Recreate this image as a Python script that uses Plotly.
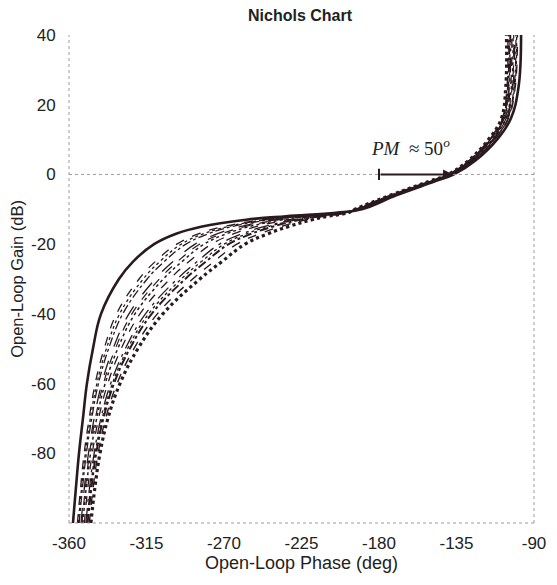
import plotly.graph_objects as go

# ---- data ----
gain_db = [-100, -90, -80, -70, -60, -50, -40, -30, -25, -20, -17, -15, -13, -12, -11,
           -10, -6, -2, 0, 4, 10, 16, 25, 40]

phase_solid = [-357.7, -356.0, -354.2, -351.9, -349.6, -346.1, -341.4, -331.0, -322.8, -310.6,
               -297.8, -283.3, -257.2, -234.0, -205.0, -190.0, -170.0, -147.5, -136.5, -124.0,
               -111.5, -103.5, -99.0, -97.5]
phase_c1 = [-355.1, -353.3, -351.2, -348.3, -344.8, -339.6, -332.4, -319.3, -309.9, -297.4,
            -284.5, -270.7, -247.6, -227.9, -203.3, -191.0, -170.9, -148.4, -137.4, -125.0,
            -112.8, -104.9, -100.9, -99.6]
phase_c1b = [-354.6, -352.7, -350.5, -347.6, -343.8, -338.3, -330.6, -316.9, -307.3, -294.8,
             -281.8, -268.1, -245.7, -226.7, -202.9, -191.2, -171.1, -148.6, -137.6, -125.2,
             -113.0, -105.2, -101.2, -100.1]
phase_c2 = [-354.1, -352.2, -349.9, -346.8, -342.9, -337.0, -328.8, -314.6, -304.7, -292.1,
            -279.1, -265.6, -243.8, -225.5, -202.6, -191.4, -171.2, -148.7, -137.7, -125.4,
            -113.3, -105.4, -101.6, -100.5]
phase_c3 = [-353.0, -351.1, -348.7, -345.4, -341.0, -334.4, -325.2, -309.9, -299.6, -286.8,
            -273.8, -260.6, -240.0, -223.0, -201.9, -191.8, -171.6, -149.1, -138.1, -125.8,
            -113.8, -106.0, -102.3, -101.3]
phase_c3b = [-352.5, -350.5, -348.1, -344.7, -340.0, -333.1, -323.5, -307.5, -297.0, -284.2,
             -271.1, -258.1, -238.1, -221.8, -201.5, -192.0, -171.8, -149.3, -138.3, -126.0,
             -114.0, -106.3, -102.7, -101.8]
phase_c4 = [-352.0, -350.0, -347.5, -343.9, -339.0, -331.7, -321.7, -305.2, -294.4, -281.6,
            -268.4, -255.5, -236.1, -220.6, -201.2, -192.2, -171.9, -149.4, -138.4, -126.2,
            -114.3, -106.5, -103.1, -102.2]
phase_c5 = [-351.1, -349.1, -346.5, -342.8, -337.5, -329.7, -318.8, -301.4, -290.3, -277.3,
            -264.2, -251.5, -233.1, -218.6, -200.6, -192.5, -172.2, -149.7, -138.7, -126.5,
            -114.7, -107.0, -103.7, -102.9]
phase_c6 = [-350.2, -348.1, -345.4, -341.5, -335.8, -327.3, -315.6, -297.2, -285.6, -272.6,
            -259.4, -246.9, -229.6, -216.4, -200.0, -192.9, -172.5, -150.0, -139.0, -126.9,
            -115.1, -107.5, -104.3, -103.6]
phase_c6b = [-349.7, -347.5, -344.8, -340.7, -334.8, -326.0, -313.8, -294.8, -283.1, -269.9,
             -256.7, -244.4, -227.7, -215.2, -199.6, -193.1, -172.7, -150.2, -139.2, -127.1,
             -115.4, -107.7, -104.7, -104.0]
phase_c7 = [-349.2, -347.0, -344.2, -340.0, -333.9, -324.7, -312.0, -292.5, -280.5, -267.3,
            -254.0, -241.9, -225.8, -214.0, -199.3, -193.3, -172.9, -150.4, -139.4, -127.3,
            -115.6, -108.0, -105.1, -104.5]
phase_c8 = [-348.2, -346.0, -343.1, -338.7, -332.1, -322.3, -308.7, -288.2, -275.8, -262.6,
            -249.2, -237.3, -222.3, -211.8, -198.6, -193.6, -173.2, -150.7, -139.7, -127.6,
            -116.1, -108.5, -105.7, -105.2]
phase_dotted = [-347.3, -345.0, -342.0, -337.4, -330.4, -320.0, -305.5, -284.0, -271.2, -257.8,
                -244.4, -232.8, -218.9, -209.6, -198.0, -194.0, -173.5, -151.0, -140.0, -128.0,
                -116.5, -109.0, -106.4, -106.0]

x_ticks = [-360, -315, -270, -225, -180, -135, -90]
y_ticks = [-80, -60, -40, -20, 0, 20, 40]
x_range = [-360, -90]
y_range = [-100, 40]

pm_start = -180
pm_end = -137
pm_text = "<i>PM</i>  ≈ 50<sup><i>o</i></sup>"
pm_text_x = -162
pm_text_y = 8

INK = "#2a1a1e"
TEXT = "#222222"
SMOOTH = 1.15

fig = go.Figure()

inner = [
    (phase_c1, "dash", 1.3),
    (phase_c1b, "dot", 1.3),
    (phase_c2, "dashdot", 1.3),
    (phase_c3, "longdash", 1.3),
    (phase_c3b, "dash", 1.2),
    (phase_c4, "dot", 1.5),
    (phase_c5, "dash", 1.3),
    (phase_c6, "longdashdot", 1.3),
    (phase_c6b, "dot", 1.3),
    (phase_c7, "dashdot", 2.0),
    (phase_c8, "dash", 1.4),
]
for ph, dash, w in inner:
    fig.add_trace(go.Scatter(x=ph, y=gain_db, mode="lines",
                             line=dict(color=INK, width=w, dash=dash, shape="spline", smoothing=SMOOTH),
                             hoverinfo="skip", showlegend=False))

fig.add_trace(go.Scatter(x=phase_dotted, y=gain_db, mode="lines",
                         line=dict(color=INK, width=3.2, dash="dot", shape="spline", smoothing=SMOOTH),
                         showlegend=False))
fig.add_trace(go.Scatter(x=phase_solid, y=gain_db, mode="lines",
                         line=dict(color=INK, width=2.6, shape="spline", smoothing=SMOOTH),
                         showlegend=False))

# PM marker at start of arrow
fig.add_trace(go.Scatter(x=[pm_start], y=[0], mode="markers",
                         marker=dict(symbol="line-ns", size=8, line=dict(color=INK, width=2)),
                         showlegend=False, hoverinfo="skip"))

fig.add_annotation(x=pm_end, y=0, ax=pm_start, ay=0, axref="x", ayref="y",
                   xref="x", yref="y", text="", showarrow=True,
                   arrowhead=2, arrowsize=1, arrowwidth=2, arrowcolor=INK)
fig.add_annotation(x=pm_text_x, y=pm_text_y, xref="x", yref="y", text=pm_text,
                   showarrow=False,
                   font=dict(family="Liberation Serif, Times New Roman, serif", size=19, color=TEXT))

grid = dict(color="#9a9a9a", width=1, dash="dot")
fig.add_shape(type="line", xref="paper", yref="paper", x0=0, x1=0, y0=0, y1=1, line=grid)
fig.add_shape(type="line", xref="paper", yref="paper", x0=1, x1=1, y0=0, y1=1, line=grid)
fig.add_shape(type="line", xref="paper", yref="paper", x0=0, x1=1, y0=0, y1=0, line=grid)
fig.add_shape(type="line", xref="paper", yref="y", x0=0, x1=1, y0=0, y1=0, line=grid)

# the page body adds an 8px margin: shrink the figure by 8px and shift left/top margins
font_family = "Liberation Sans, Arial, sans-serif"
fig.update_layout(
    width=549, height=577,
    margin=dict(l=61, r=23, t=27, b=62),
    paper_bgcolor="white", plot_bgcolor="white",
    title=dict(text="<b>Nichols Chart</b>", x=0.532, xanchor="center",
               y=0.998, yanchor="top", pad=dict(t=1, b=0),
               font=dict(family=font_family, size=16, color=TEXT)),
    font=dict(family=font_family, size=16.5, color=TEXT),
    xaxis=dict(range=x_range, tickvals=x_ticks, ticktext=[str(v) for v in x_ticks],
               showgrid=False, zeroline=False, showline=False, automargin=False,
               ticks="outside", ticklen=5, tickcolor="rgba(0,0,0,0)",
               tickfont=dict(size=17),
               title=dict(text="Open-Loop Phase (deg)", standoff=1,
                          font=dict(size=18))),
    yaxis=dict(range=y_range, tickvals=y_ticks, ticktext=[str(v) for v in y_ticks],
               showgrid=False, zeroline=False, showline=False, automargin=False,
               ticks="outside", ticklen=9, tickcolor="rgba(0,0,0,0)",
               tickfont=dict(size=17),
               title=dict(text="Open-Loop Gain (dB)", standoff=5,
                          font=dict(size=16.5))),
)

fig.write_html("out.html")
